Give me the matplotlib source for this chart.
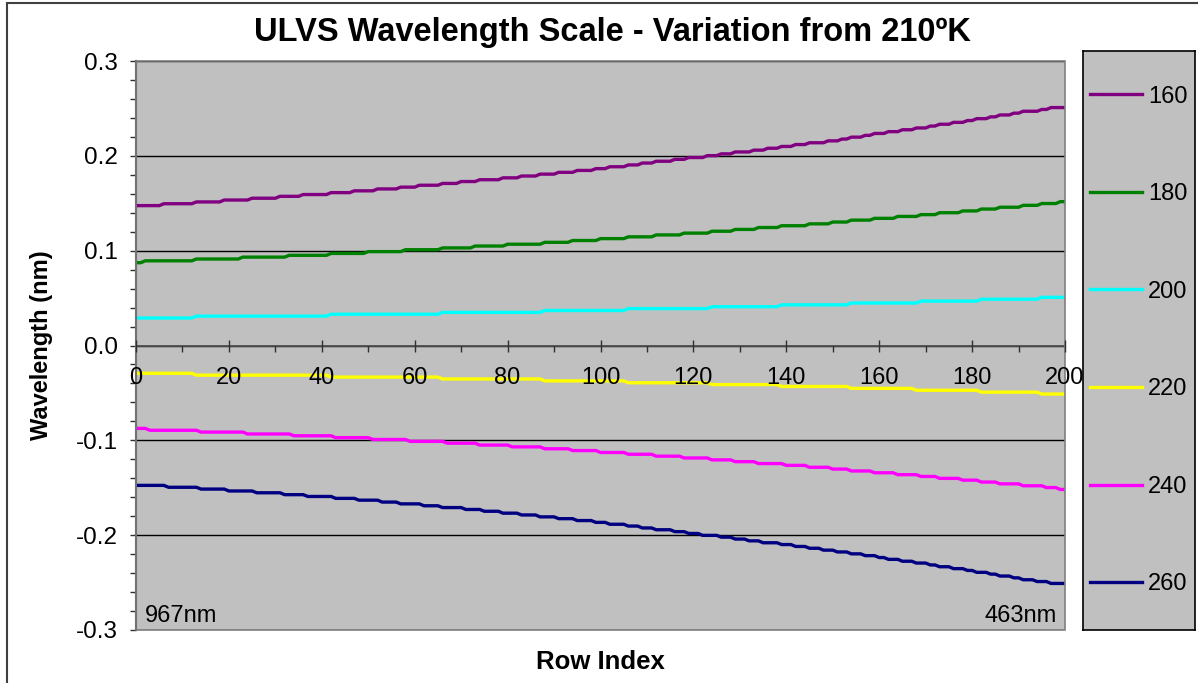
import numpy as np
import matplotlib
matplotlib.use("Agg")
import matplotlib.pyplot as plt
from matplotlib.ticker import MultipleLocator, FormatStrFormatter
from matplotlib.patches import Rectangle

plt.rcParams['font.family'] = ['Liberation Sans', 'DejaVu Sans']
plt.rcParams['axes.unicode_minus'] = False

# ---- data -------------------------------------------------------------
n_rows = 201  # row index 0..200

temperatures = ['160', '180', '200', '220', '240', '260']
line_colors = ['#800080', '#008000', '#00FFFF', '#FFFF00', '#FF00FF', '#000080']

# Each curve is quantised: rows where the value changes, and the held levels (nm)
breaks_160 = [6, 13, 19, 25, 31, 36, 42, 47, 52, 57, 61, 66, 70, 74, 79, 83, 87, 91,
              95, 99, 102, 106, 109, 112, 116, 119, 123, 126, 129, 133, 136, 139, 142,
              145, 149, 152, 154, 157, 159, 162, 165, 168, 171, 173, 176, 179, 181, 184,
              186, 189, 191, 195, 197]
levels_160 = [0.1475, 0.1495, 0.1514, 0.1534, 0.1553, 0.1573, 0.1592, 0.1612, 0.1631,
              0.1651, 0.1670, 0.1690, 0.1709, 0.1729, 0.1748, 0.1768, 0.1787, 0.1807,
              0.1826, 0.1846, 0.1865, 0.1885, 0.1904, 0.1924, 0.1943, 0.1963, 0.1982,
              0.2002, 0.2021, 0.2041, 0.2060, 0.2080, 0.2099, 0.2119, 0.2138, 0.2158,
              0.2177, 0.2197, 0.2216, 0.2236, 0.2255, 0.2275, 0.2294, 0.2314, 0.2333,
              0.2353, 0.2372, 0.2392, 0.2411, 0.2431, 0.2450, 0.2470, 0.2489, 0.2509]

breaks_180 = [2, 13, 23, 33, 42, 50, 58, 66, 73, 80, 88, 94, 100, 106, 112, 118, 124,
              129, 134, 139, 145, 150, 154, 159, 164, 169, 173, 178, 182, 186, 191, 195, 199]
levels_180 = [0.0873, 0.0893, 0.0912, 0.0932, 0.0951, 0.0971, 0.0990, 0.1010, 0.1029,
              0.1049, 0.1068, 0.1088, 0.1107, 0.1127, 0.1146, 0.1166, 0.1185, 0.1205,
              0.1224, 0.1244, 0.1263, 0.1283, 0.1302, 0.1322, 0.1341, 0.1361, 0.1380,
              0.1400, 0.1419, 0.1439, 0.1458, 0.1478, 0.1497, 0.1517]

breaks_200 = [13, 42, 66, 88, 106, 124, 139, 154, 169, 182, 195]
levels_200 = [0.0290, 0.0310, 0.0330, 0.0349, 0.0369, 0.0389, 0.0409, 0.0429, 0.0448,
              0.0468, 0.0488, 0.0508]

breaks_220 = [13, 42, 66, 88, 106, 124, 139, 154, 168, 182, 195]
levels_220 = [-0.0293, -0.0313, -0.0333, -0.0353, -0.0373, -0.0393, -0.0412, -0.0432,
              -0.0452, -0.0472, -0.0492, -0.0512]

breaks_240 = [3, 14, 24, 34, 43, 51, 59, 67, 74, 81, 88, 94, 100, 106, 112, 118, 124,
              129, 134, 140, 145, 150, 154, 159, 164, 169, 173, 178, 182, 186, 191, 196, 199]
levels_240 = [-0.0874, -0.0894, -0.0913, -0.0933, -0.0952, -0.0972, -0.0991, -0.1011,
              -0.1030, -0.1050, -0.1069, -0.1089, -0.1108, -0.1128, -0.1147, -0.1167,
              -0.1186, -0.1206, -0.1225, -0.1245, -0.1264, -0.1284, -0.1303, -0.1323,
              -0.1342, -0.1362, -0.1381, -0.1401, -0.1420, -0.1440, -0.1459, -0.1479,
              -0.1498, -0.1518]

breaks_260 = [7, 14, 20, 26, 32, 37, 43, 48, 53, 57, 62, 66, 71, 75, 79, 83, 87, 91,
              95, 99, 102, 106, 109, 112, 116, 119, 122, 126, 129, 132, 135, 139, 142,
              145, 148, 151, 154, 157, 160, 162, 165, 168, 171, 173, 176, 179, 181, 184,
              186, 189, 191, 194, 197]
levels_260 = [-0.1475, -0.1495, -0.1514, -0.1534, -0.1553, -0.1573, -0.1592, -0.1612,
              -0.1631, -0.1651, -0.1670, -0.1690, -0.1709, -0.1729, -0.1748, -0.1768,
              -0.1787, -0.1807, -0.1826, -0.1846, -0.1865, -0.1885, -0.1904, -0.1924,
              -0.1943, -0.1963, -0.1982, -0.2002, -0.2021, -0.2041, -0.2060, -0.2080,
              -0.2099, -0.2119, -0.2138, -0.2158, -0.2177, -0.2197, -0.2216, -0.2236,
              -0.2255, -0.2275, -0.2294, -0.2314, -0.2333, -0.2353, -0.2372, -0.2392,
              -0.2411, -0.2431, -0.2450, -0.2470, -0.2489, -0.2509]

series_breaks = [breaks_160, breaks_180, breaks_200, breaks_220, breaks_240, breaks_260]
series_levels = [levels_160, levels_180, levels_200, levels_220, levels_240, levels_260]


def expand(breaks, levels):
    """Per-row values from the change rows and held levels."""
    runs = np.diff([0] + list(breaks) + [n_rows])
    return np.repeat(levels, runs)


rows = np.arange(n_rows)

# ---- figure -----------------------------------------------------------
W, H = 1198, 683
fig = plt.figure(figsize=(W / 100, H / 100), dpi=100)
fig.patch.set_facecolor('white')

# outer chart frame
fig.patches.append(Rectangle((7 / W, -0.05), 1.2, 1.05 - 3 / H, transform=fig.transFigure,
                             fill=False, edgecolor='#404040', linewidth=1.5))

ax = fig.add_axes([136 / W, 1 - 630 / H, (1065 - 136) / W, (630 - 61) / H])
ax.set_facecolor('#C0C0C0')

for temp, col, br, lv in zip(temperatures, line_colors, series_breaks, series_levels):
    ax.plot(rows, expand(br, lv), color=col, linewidth=2.4, label=temp,
            solid_joinstyle='miter', zorder=2)

ax.set_xlim(0, 200)
ax.set_ylim(-0.3, 0.3)

ax.xaxis.set_major_locator(MultipleLocator(20))
ax.xaxis.set_minor_locator(MultipleLocator(10))
ax.yaxis.set_major_locator(MultipleLocator(0.1))
ax.yaxis.set_minor_locator(MultipleLocator(0.02))
ax.yaxis.set_major_formatter(FormatStrFormatter('%.1f'))

ax.yaxis.grid(True, which='major', color='black', linewidth=1.0)
ax.set_axisbelow(True)

ax.spines['bottom'].set_position(('data', 0))
ax.spines['bottom'].set_color('#505050')
ax.spines['bottom'].set_linewidth(1.3)
ax.spines['left'].set_color('#303030')
ax.spines['left'].set_linewidth(1.5)
ax.spines['top'].set_visible(False)
ax.spines['right'].set_visible(False)
ax.add_patch(Rectangle((0, 0), 1, 1, transform=ax.transAxes, fill=False,
                       edgecolor='#808080', linewidth=1.2, zorder=4, clip_on=False))

ax.tick_params(axis='x', which='major', direction='inout', length=9, width=1,
               color='#303030', pad=11, labelsize=17)
ax.tick_params(axis='x', which='minor', direction='out', length=4.5, width=1,
               color='#303030')
ax.tick_params(axis='y', which='both', direction='out', length=4.5, width=1,
               color='#303030', pad=8.5, labelsize=17.5)
ax.xaxis.set_zorder(5)

ax.text(0.0097, 0.014, '967nm', transform=ax.transAxes, ha='left', va='baseline',
        fontsize=17)
ax.text(0.991, 0.014, '463nm', transform=ax.transAxes, ha='right', va='baseline',
        fontsize=17)

fig.text(612 / W, 1 - 32 / H, 'ULVS Wavelength Scale - Variation from 210ºK',
         ha='center', va='center', fontsize=23.5, fontweight='bold')
fig.text(42 / W, 1 - 345 / H, 'Wavelength (nm)', rotation=90, ha='center',
         va='center', fontsize=17, fontweight='bold')
fig.text(600 / W, 1 - 662 / H, 'Row Index', ha='center', va='center',
         fontsize=18.5, fontweight='bold')

# legend panel
leg_ax = fig.add_axes([1083 / W, 1 - 630 / H, (1195 - 1083) / W, (630 - 51) / H])
leg_ax.set_facecolor('#C0C0C0')
leg_ax.set_xticks([])
leg_ax.set_yticks([])
for sp in leg_ax.spines.values():
    sp.set_color('black')
    sp.set_linewidth(1.2)
handles, labels = ax.get_legend_handles_labels()
leg_ax.legend(handles, labels, loc='center', frameon=False, fontsize=17,
              handlelength=2.2, handletextpad=0.25, labelspacing=3.2, borderpad=0)

fig.savefig('out.png', dpi=100, facecolor=fig.get_facecolor())
